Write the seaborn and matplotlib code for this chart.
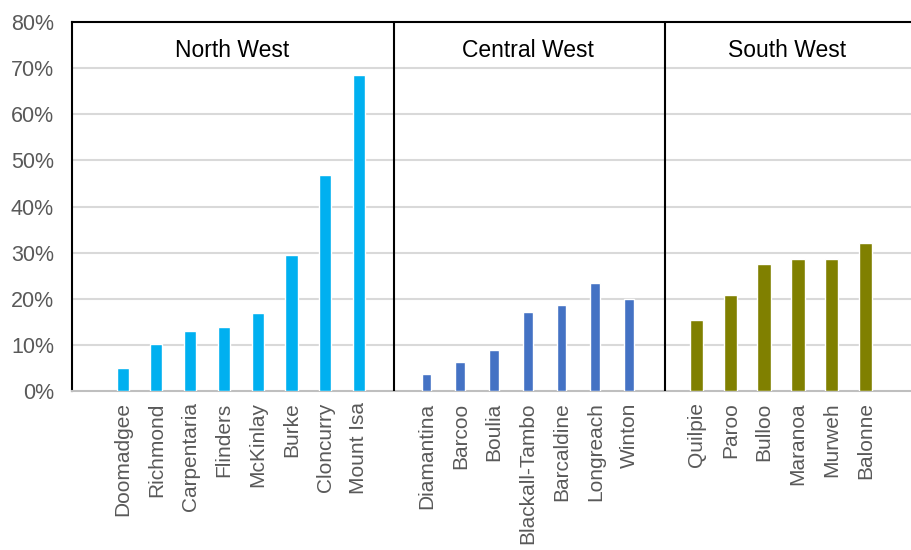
import matplotlib
matplotlib.use("Agg")
import matplotlib.pyplot as plt
import seaborn as sns
import pandas as pd

# ---- data ----
regions = ["North West", "Central West", "South West"]
nw_names = ["Doomadgee", "Richmond", "Carpentaria", "Flinders", "McKinlay", "Burke", "Cloncurry", "Mount Isa"]
nw_values = [5.0, 10.2, 13.1, 14.0, 17.0, 29.5, 46.9, 68.5]
cw_names = ["Diamantina", "Barcoo", "Boulia", "Blackall-Tambo", "Barcaldine", "Longreach", "Winton"]
cw_values = [3.7, 6.3, 8.9, 17.1, 18.8, 23.5, 20.1]
sw_names = ["Quilpie", "Paroo", "Bulloo", "Maranoa", "Murweh", "Balonne"]
sw_values = [15.4, 20.9, 27.5, 28.7, 28.7, 32.1]
y_ticks = [0, 10, 20, 30, 40, 50, 60, 70, 80]
y_labels = ["0%", "10%", "20%", "30%", "40%", "50%", "60%", "70%", "80%"]

colors = {"North West": "#00B0F0", "Central West": "#4472C4", "South West": "#808000"}
widths = {"North West": 0.36, "Central West": 0.29, "South West": 0.40}

# positions: blank slot before each group
rows = []
pos = 0
group_bounds = []
for reg, names, vals in [("North West", nw_names, nw_values),
                         ("Central West", cw_names, cw_values),
                         ("South West", sw_names, sw_values)]:
    start = pos
    pos += 1
    for n, v in zip(names, vals):
        rows.append({"region": reg, "name": n, "value": v, "pos": pos})
        pos += 1
    group_bounds.append(start)
df = pd.DataFrame(rows)

sns.set_style("white")
plt.rcParams["font.family"] = ["Liberation Sans", "DejaVu Sans"]

fig = plt.figure(figsize=(9.11, 5.5), dpi=100)
ax = fig.add_axes([72 / 911, 1 - 391.3 / 550, (911 - 72) / 911, (391.3 - 22) / 550])

for reg in regions:
    sub = df[df["region"] == reg]
    sns.barplot(data=sub, x="pos", y="value", native_scale=True, width=widths[reg],
                color=colors[reg], saturation=1, ax=ax, errorbar=None, zorder=3)

xmax = 24.35
ax.set_xlim(-0.5, xmax)
ax.set_ylim(0, 80)
ax.set_yticks(y_ticks)
ax.set_yticklabels(y_labels)
ax.set_xticks(df["pos"].tolist())
ax.set_xticklabels(df["name"].tolist(), rotation=90)
ax.tick_params(axis="y", length=0, pad=13, labelsize=15.5, labelcolor="#595959")
ax.tick_params(axis="x", length=0, pad=8, labelsize=15, labelcolor="#595959")
ax.set_xlabel("")
ax.set_ylabel("")

for t in y_ticks[1:-1]:
    ax.axhline(t, color="#d9d9d9", lw=1.5, zorder=1)

ax.spines["right"].set_visible(False)
ax.spines["left"].set_color("black")
ax.spines["left"].set_linewidth(1.5)
ax.spines["top"].set_color("black")
ax.spines["top"].set_linewidth(1.5)
ax.spines["bottom"].set_color("#bfbfbf")
ax.spines["bottom"].set_linewidth(1.5)

# group dividers and titles
bounds = group_bounds + [xmax]
for b in group_bounds[1:]:
    ax.axvline(b + 0.05, color="black", lw=1.5, zorder=4)
for i, reg in enumerate(regions):
    left = -0.5 if i == 0 else bounds[i]
    right = bounds[i + 1]
    ax.text((left + right) / 2, 73.9, reg, ha="center", va="center", fontsize=16.5, color="black")

fig.savefig("out.png", dpi=100)
